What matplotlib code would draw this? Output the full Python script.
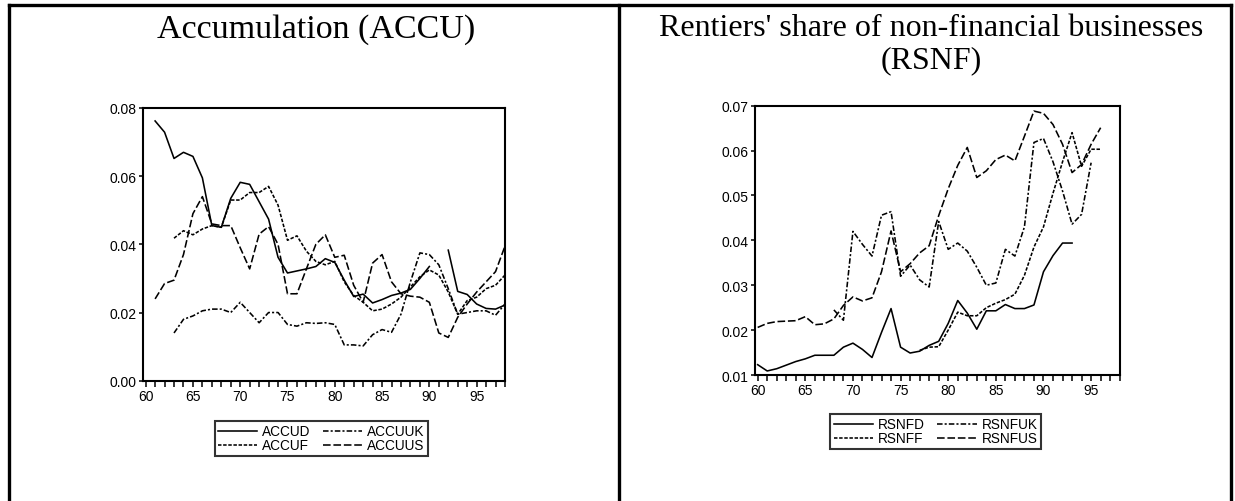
import numpy as np
import matplotlib
matplotlib.use("Agg")
import matplotlib.pyplot as plt
from matplotlib.lines import Line2D
from matplotlib.ticker import FormatStrFormatter, MultipleLocator

plt.rcParams['lines.scale_dashes'] = False

# ---------------- data ----------------
years_accu = list(range(61, 99))
accud = [0.0762, 0.0729, 0.0652, 0.0670, 0.0658, 0.0595, 0.0455, 0.0450, 0.0535, 0.0582,
         0.0576, 0.0525, 0.0474, 0.0362, 0.0316, 0.0322, 0.0328, 0.0335, 0.0358, 0.0347,
         0.0295, 0.0247, 0.0254, 0.0228, 0.0238, 0.0250, 0.0257, 0.0268, 0.0300, 0.0335,
         np.nan, 0.0383, 0.0262, 0.0253, 0.0225, 0.0212, 0.0210, 0.0222]
accuf = [np.nan, np.nan,
         0.0418, 0.0440, 0.0428, 0.0445, 0.0455, 0.0450, 0.0530, 0.0530,
         0.0552, 0.0552, 0.0570, 0.0515, 0.0412, 0.0425, 0.0380, 0.0350, 0.0340, 0.0350,
         0.0290, 0.0250, 0.0230, 0.0205, 0.0210, 0.0225, 0.0245, 0.0275, 0.0305, 0.0325,
         0.0310, 0.0260, 0.0195, 0.0235, 0.0245, 0.0270, 0.0280, 0.0310]
accuuk = [np.nan, np.nan,
          0.0140, 0.0180, 0.0190, 0.0205, 0.0210, 0.0210, 0.0200, 0.0230,
          0.0200, 0.0170, 0.0200, 0.0200, 0.0165, 0.0160, 0.0170, 0.0168, 0.0170, 0.0165,
          0.0105, 0.0105, 0.0102, 0.0135, 0.0150, 0.0142, 0.0195, 0.0290, 0.0375, 0.0370,
          0.0340, 0.0270, 0.0195, 0.0200, 0.0205, 0.0205, 0.0192, 0.0225]
accuus = [0.0240, 0.0285, 0.0295, 0.0370, 0.0490, 0.0540, 0.0460, 0.0455, 0.0455, 0.0390,
          0.0328, 0.0430, 0.0452, 0.0400, 0.0255, 0.0255, 0.0328, 0.0400, 0.0428, 0.0362,
          0.0368, 0.0280, 0.0230, 0.0345, 0.0370, 0.0290, 0.0255, 0.0248, 0.0245, 0.0230,
          0.0140, 0.0127, 0.0186, 0.0225, 0.0260, 0.0290, 0.0320, 0.0395]

years_rsnf = list(range(60, 97))
rsnfd = [0.0123, 0.0109, 0.0114, 0.0122, 0.0130, 0.0136, 0.0144, 0.0144, 0.0144, 0.0162,
         0.0171, 0.0157, 0.0139, 0.0195, 0.0248, 0.0162, 0.0149, 0.0153, 0.0166, 0.0175,
         0.0215, 0.0266, 0.0238, 0.0202, 0.0243, 0.0243, 0.0257, 0.0248, 0.0248, 0.0256,
         0.0330, 0.0366, 0.0394, 0.0394, np.nan, np.nan, np.nan]
rsnff = [np.nan] * 17 + [
         0.0155, 0.0162, 0.0163,
         0.0200, 0.0240, 0.0232, 0.0232, 0.0250, 0.0260, 0.0268, 0.0280, 0.0322, 0.0385,
         0.0430, 0.0505, 0.0575, 0.0640, 0.0565, 0.0603, 0.0603]
rsnfuk = [np.nan] * 8 + [
          0.0245, 0.0222,
          0.0420, 0.0391, 0.0365, 0.0456, 0.0464, 0.0320, 0.0345, 0.0312, 0.0296, 0.0442,
          0.0380, 0.0394, 0.0376, 0.0340, 0.0300, 0.0305, 0.0380, 0.0365, 0.0430, 0.0618,
          0.0627, 0.0575, 0.0510, 0.0436, 0.0458, 0.0573, np.nan]
rsnfus = [0.0206, 0.0215, 0.0219, 0.0220, 0.0221, 0.0230, 0.0212, 0.0214, 0.0225, 0.0255,
          0.0274, 0.0265, 0.0272, 0.0330, 0.0421, 0.0330, 0.0348, 0.0372, 0.0388, 0.0455,
          0.0515, 0.0567, 0.0607, 0.0540, 0.0555, 0.0580, 0.0590, 0.0577, 0.0632, 0.0688,
          0.0683, 0.0658, 0.0614, 0.0551, 0.0569, 0.0614, 0.0651]

title_left = "Accumulation (ACCU)"
title_right = "Rentiers' share of non-financial businesses\n(RSNF)"
labels_left = ["ACCUD", "ACCUF", "ACCUUK", "ACCUUS"]
labels_right = ["RSNFD", "RSNFF", "RSNFUK", "RSNFUS"]

# ---------------- styling ----------------
W, H = 1235, 502
fig = plt.figure(figsize=(W / 100, H / 100), dpi=100)
sans = ['Liberation Sans', 'DejaVu Sans']
serif = ['Liberation Serif', 'DejaVu Serif']

styles = [
    dict(ls='-'),
    dict(ls=(0, (2.5, 1.2))),
    dict(ls=(0, (4.0, 1.5, 1.5, 1.5))),
    dict(ls=(0, (5.5, 2.0))),
]
LW = 1.15


def px_rect(x0, x1, ytop, ybot):
    return [x0 / W, 1 - ybot / H, (x1 - x0) / W, (ybot - ytop) / H]


def style_axes(ax, ylo, yhi, yticks):
    ax.set_xlim(59.72, 98.0)
    ax.set_ylim(ylo, yhi)
    ax.set_yticks(yticks)
    ax.yaxis.set_major_formatter(FormatStrFormatter('%.2f'))
    ax.set_xticks(range(60, 96, 5))
    ax.xaxis.set_minor_locator(MultipleLocator(1))
    ax.tick_params(axis='both', which='both', direction='out', width=1.1, colors='black',
                   labelsize=10)
    ax.tick_params(axis='x', which='both', length=4.2, pad=1.5)
    ax.tick_params(axis='y', which='both', length=3.2, pad=1.5)
    ax.tick_params(axis='y', which='minor', left=False)
    for s in ax.spines.values():
        s.set_linewidth(1.5)
        s.set_color('black')
    for lab in ax.get_xticklabels() + ax.get_yticklabels():
        lab.set_fontfamily(sans)


def legend(ax, handles, labels, x0, ytop):
    leg = fig.legend(handles, labels, ncol=2, loc='upper left',
                     bbox_to_anchor=(x0 / W, 1 - ytop / H), bbox_transform=fig.transFigure,
                     prop={'family': sans, 'size': 9.8}, frameon=True, fancybox=False,
                     edgecolor='black', borderpad=0.25, labelspacing=0.0,
                     handlelength=2.9, handletextpad=0.35, columnspacing=0.9,
                     borderaxespad=0)
    leg.get_frame().set_linewidth(1.5)
    return leg


# left panel
axL = fig.add_axes(px_rect(143, 505, 109, 381.7))
hL = []
for vals, st in zip([accud, accuf, accuuk, accuus], styles):
    h, = axL.plot(years_accu, vals, color='black', lw=LW, **st)
    hL.append(h)
style_axes(axL, 0.0, 0.08, [0.0, 0.02, 0.04, 0.06, 0.08])
legend(axL, hL, labels_left, 214.6, 422)

# right panel
axR = fig.add_axes(px_rect(755, 1119.7, 106.7, 376))
hR = []
for vals, st in zip([rsnfd, rsnff, rsnfuk, rsnfus], styles):
    h, = axR.plot(years_rsnf, vals, color='black', lw=LW, **st)
    hR.append(h)
style_axes(axR, 0.01, 0.07, [0.01, 0.02, 0.03, 0.04, 0.05, 0.06, 0.07])
legend(axR, hR, labels_right, 830.4, 415)

# titles
fig.text(316 / W, 1 - 30 / H, title_left, ha='center', va='center',
         fontsize=24.5, family=serif)
fig.text(931 / W, 1 - 44.5 / H, title_right, ha='center', va='center',
         fontsize=23, family=serif, linespacing=1.12)

# frame lines
def fline(x0, y0, x1, y1, lw=2.4):
    fig.add_artist(Line2D([x0 / W, x1 / W], [1 - y0 / H, 1 - y1 / H],
                          transform=fig.transFigure, color='black', lw=lw,
                          solid_capstyle='projecting'))

fline(8.5, 5.5, 1231, 5.5)
fline(8.5, 5.5, 8.5, 502)
fline(618.5, 5.5, 618.5, 502)
fline(1231, 5.5, 1231, 502)

fig.savefig('out.png', dpi=100)
